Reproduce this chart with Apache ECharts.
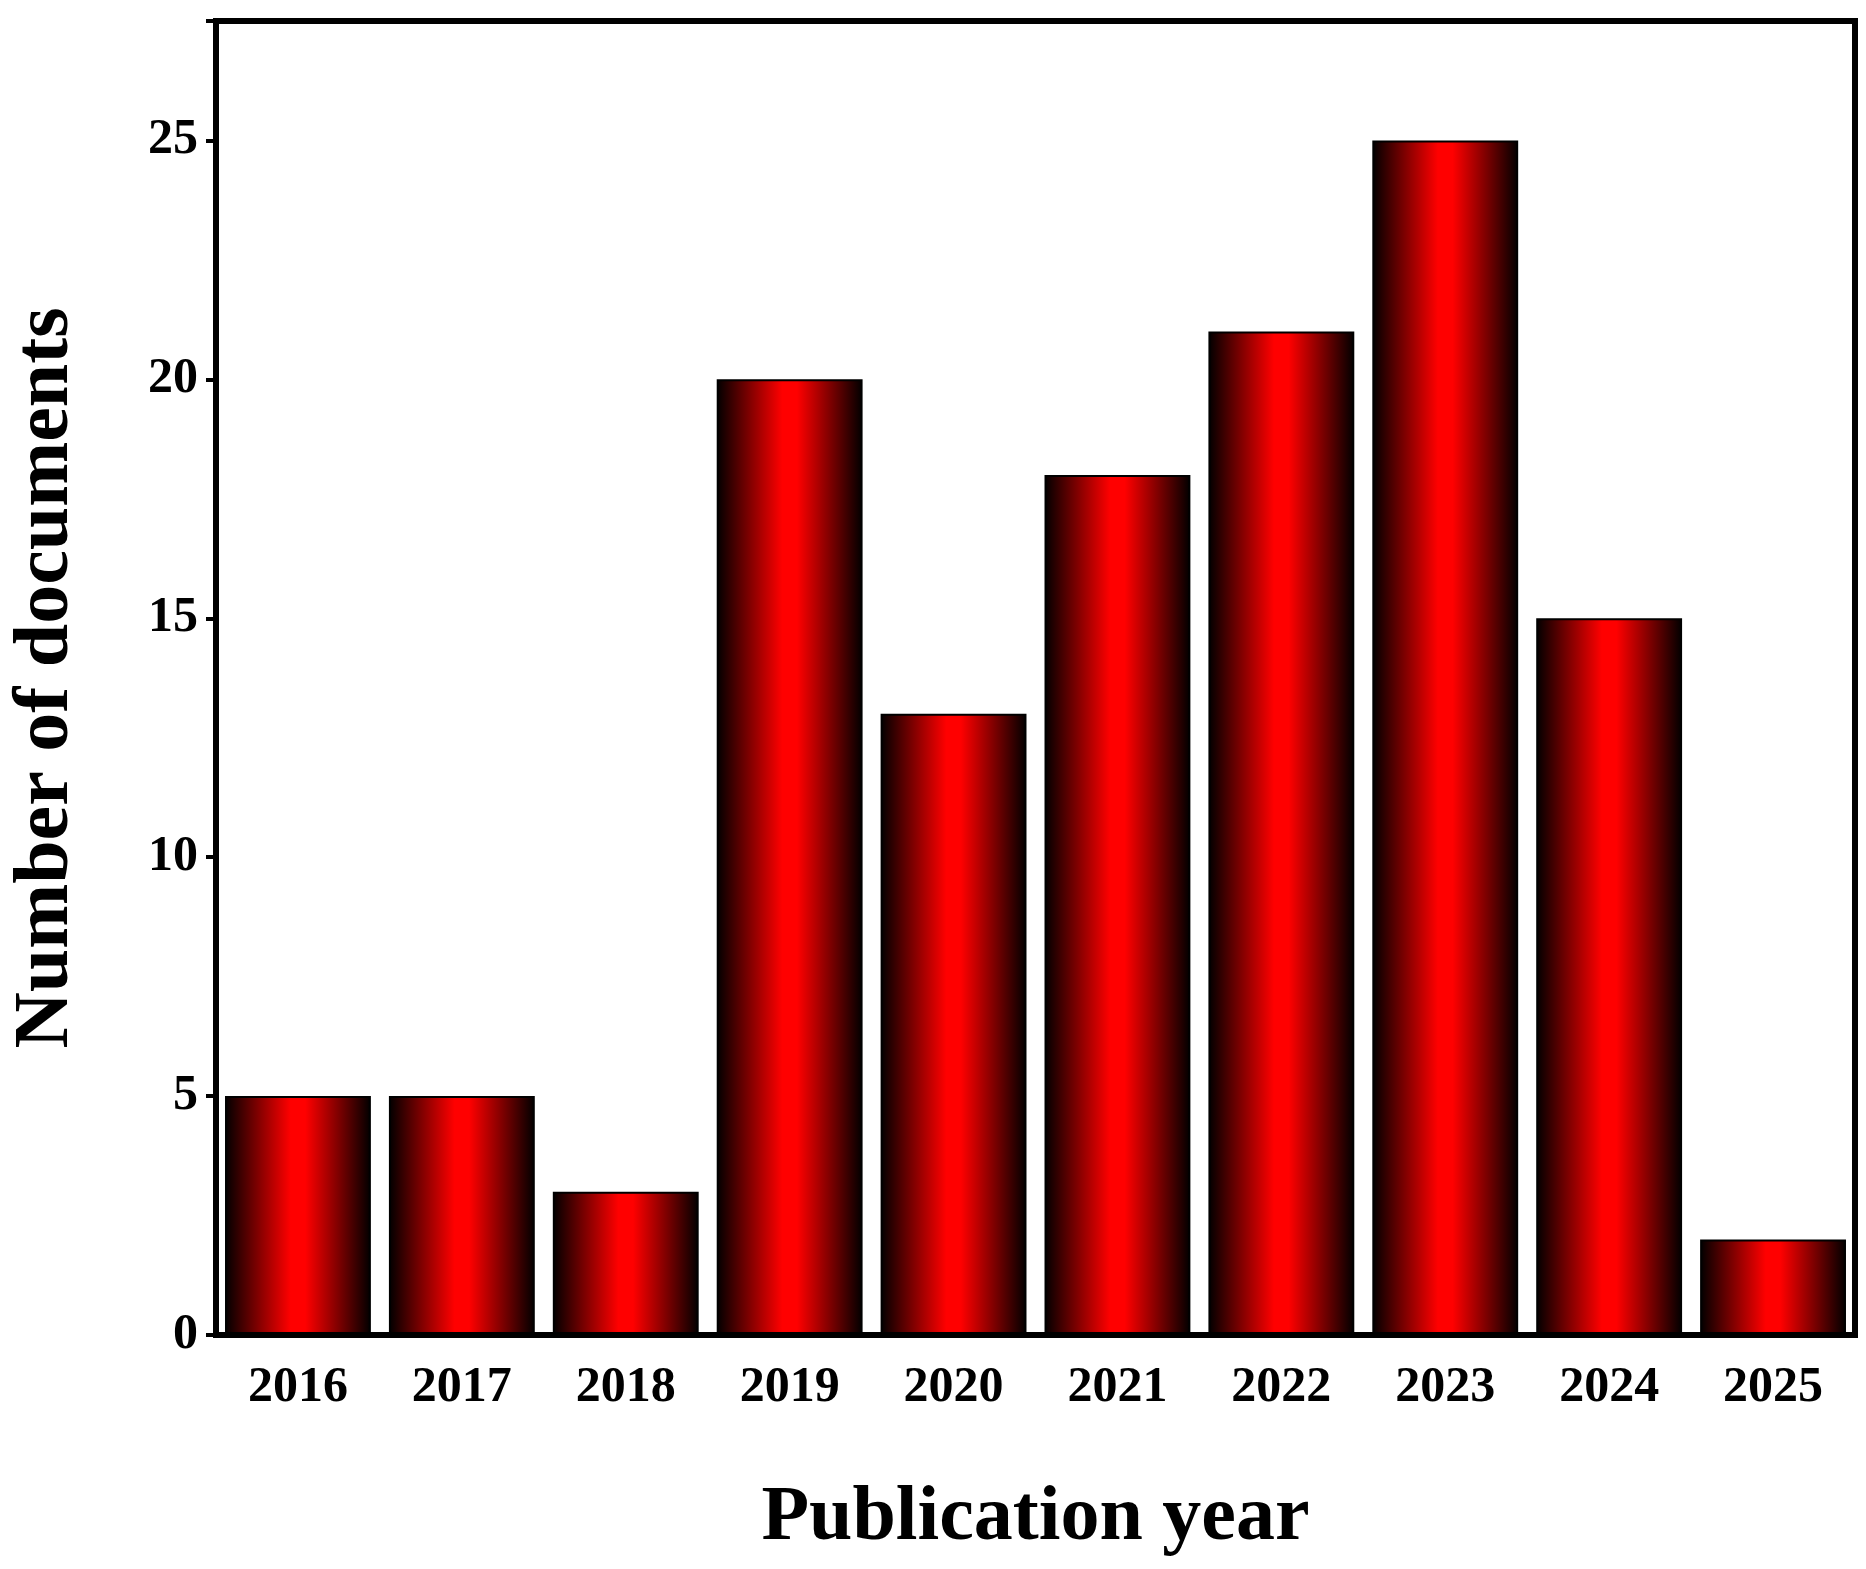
<!DOCTYPE html>
<html><head><meta charset="utf-8">
<script src="https://cdn.jsdelivr.net/npm/echarts@6/dist/echarts.min.js"></script>
<style>html,body{margin:0;background:#fff}#c{width:1866px;height:1569px}</style>
</head><body><div id="c"></div>
<script>
var years=["2016","2017","2018","2019","2020","2021","2022","2023","2024","2025"];
var docs=[5,5,3,20,13,18,21,25,15,2];
var font="'Liberation Serif','Times New Roman',serif";
var chart=echarts.init(document.getElementById("c"));
chart.setOption({
  animation:false,
  grid:{left:216,right:11,top:21,bottom:234},
  xAxis:{type:"category",data:years,
    axisLine:{lineStyle:{color:"#000",width:6}},axisTick:{show:false},
    axisLabel:{fontFamily:font,fontWeight:"bold",fontSize:50,color:"#000",margin:28},
    name:"Publication year",nameLocation:"middle",nameGap:145,
    nameTextStyle:{fontFamily:font,fontWeight:"bold",fontSize:78,color:"#000"}},
  yAxis:{type:"value",min:0,max:27.5,interval:5,
    axisLine:{show:true,lineStyle:{color:"#000",width:6}},
    axisTick:{show:true,length:10,lineStyle:{width:4,color:"#000"}},
    splitLine:{show:false},
    axisLabel:{fontFamily:font,fontWeight:"bold",fontSize:50,color:"#000",margin:18,
      formatter:function(v){return v%5===0?v:"";}},
    name:"Number of documents",nameLocation:"middle",nameGap:130,
    nameTextStyle:{fontFamily:font,fontWeight:"bold",fontSize:78,color:"#000"}},
  series:[{type:"bar",data:docs,barCategoryGap:"11%",
    itemStyle:{color:new echarts.graphic.LinearGradient(0,0,1,0,[
      {offset:0,color:"#000"},{offset:0.45,color:"#ff0000"},{offset:0.55,color:"#ff0000"},{offset:1,color:"#000"}]),
      borderColor:"#000",borderWidth:2}}],
  graphic:[{type:"rect",shape:{x:216,y:21,width:1639,height:1314},
    style:{fill:null,stroke:"#000",lineWidth:6},silent:true,z:100}]
});
</script></body></html>
